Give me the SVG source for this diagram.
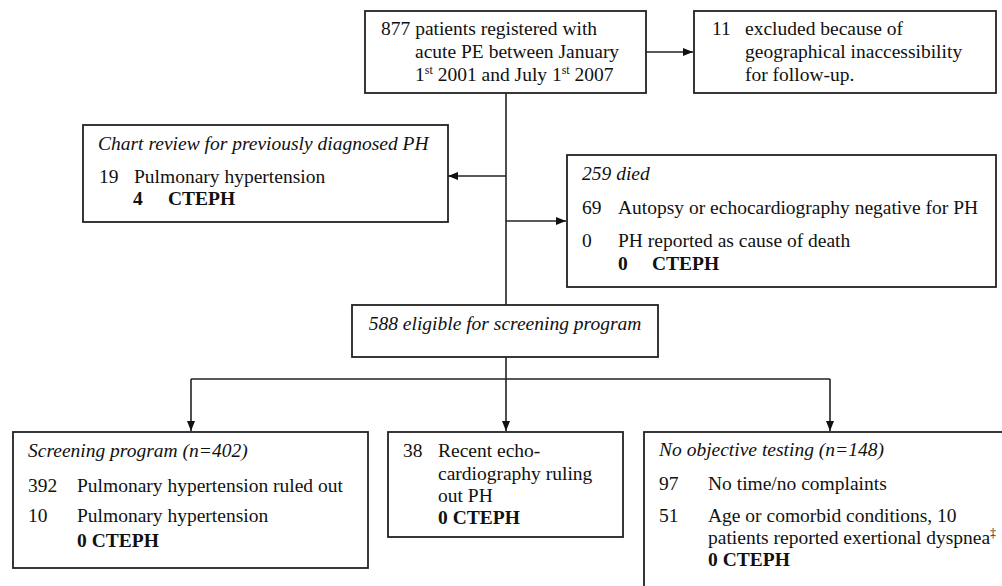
<svg xmlns="http://www.w3.org/2000/svg" width="1002" height="586" viewBox="0 0 1002 586">
<style>
.box{fill:#fff;stroke:#222;stroke-width:1.8}
.ln{fill:none;stroke:#222;stroke-width:1.6}
text{font-family:'Liberation Serif','Times New Roman','DejaVu Serif',serif;font-size:19.5px;fill:#111}
.i{font-style:italic}
.b{font-weight:bold}
.sup{font-size:12px}
</style>
<defs>
<marker id="ah" viewBox="0 0 10 8" refX="10" refY="4" markerWidth="10" markerHeight="8" markerUnits="userSpaceOnUse" orient="auto">
<path d="M0,0 L10,4 L0,8 Z" fill="#111"/>
</marker>
</defs>
<g id="connectors">
<line class="ln" x1="506" y1="93" x2="506" y2="305"/>
<line class="ln" x1="646" y1="52" x2="693" y2="52" marker-end="url(#ah)"/>
<line class="ln" x1="506" y1="176" x2="448" y2="176" marker-end="url(#ah)"/>
<line class="ln" x1="506" y1="221" x2="566" y2="221" marker-end="url(#ah)"/>
<line class="ln" x1="506" y1="357" x2="506" y2="379"/>
<line class="ln" x1="191" y1="379" x2="830" y2="379"/>
<line class="ln" x1="191" y1="379" x2="191" y2="431" marker-end="url(#ah)"/>
<line class="ln" x1="506" y1="379" x2="506" y2="431" marker-end="url(#ah)"/>
<line class="ln" x1="830" y1="379" x2="830" y2="431" marker-end="url(#ah)"/>
</g>
<g id="registered">
<rect class="box" x="365" y="11" width="281" height="82"/>
<text x="381" y="35">877 patients registered with</text>
<text x="415" y="58">acute PE between January</text>
<text x="415" y="81">1<tspan class="sup" dy="-7">st</tspan><tspan dy="7"> 2001 and July 1</tspan><tspan class="sup" dy="-7">st</tspan><tspan dy="7"> 2007</tspan></text>
</g>
<g id="excluded">
<rect class="box" x="694" y="11" width="302" height="82"/>
<text x="712" y="35">11</text>
<text x="745" y="35">excluded because of</text>
<text x="745" y="58">geographical  inaccessibility</text>
<text x="745" y="81">for follow-up.</text>
</g>
<g id="chart-review">
<rect class="box" x="83" y="125" width="365" height="97"/>
<text class="i" x="98" y="150">Chart review for previously diagnosed PH</text>
<text x="99" y="183">19</text>
<text x="134" y="183">Pulmonary hypertension</text>
<text class="b" x="133" y="205">4</text>
<text class="b" x="168" y="205">CTEPH</text>
</g>
<g id="died">
<rect class="box" x="567" y="155" width="429" height="132"/>
<text class="i" x="582" y="180">259 died</text>
<text x="582" y="214">69</text>
<text x="618" y="214">Autopsy or echocardiography negative for PH</text>
<text x="582" y="247">0</text>
<text x="618" y="247">PH reported as cause of death</text>
<text class="b" x="618" y="270">0</text>
<text class="b" x="652" y="270">CTEPH</text>
</g>
<g id="eligible">
<rect class="box" x="352" y="305" width="306" height="52"/>
<text class="i" x="505" y="330" text-anchor="middle">588 eligible for screening program</text>
</g>
<g id="screening">
<rect class="box" x="13" y="432" width="355" height="136"/>
<text class="i" x="28" y="457">Screening program (n=402)</text>
<text x="28" y="492">392</text>
<text x="77" y="492">Pulmonary hypertension ruled out</text>
<text x="28" y="522">10</text>
<text x="77" y="522">Pulmonary hypertension</text>
<text class="b" x="77" y="547">0  CTEPH</text>
</g>
<g id="echo">
<rect class="box" x="388" y="432" width="235" height="105"/>
<text x="403" y="457">38</text>
<text x="438" y="457">Recent echo-</text>
<text x="438" y="480">cardiography ruling</text>
<text x="438" y="502">out PH</text>
<text class="b" x="438" y="524">0 CTEPH</text>
</g>
<g id="no-testing">
<rect class="box" x="644" y="432" width="370" height="200"/>
<text class="i" x="659" y="456">No objective testing (n=148)</text>
<text x="659" y="490">97</text>
<text x="708" y="490">No time/no complaints</text>
<text x="659" y="522">51</text>
<text x="708" y="522">Age or comorbid conditions, 10</text>
<text x="708" y="544">patients reported exertional dyspnea<tspan class="sup" dy="-7">‡</tspan></text>
<text class="b" x="708" y="566">0  CTEPH</text>
</g>
</svg>
